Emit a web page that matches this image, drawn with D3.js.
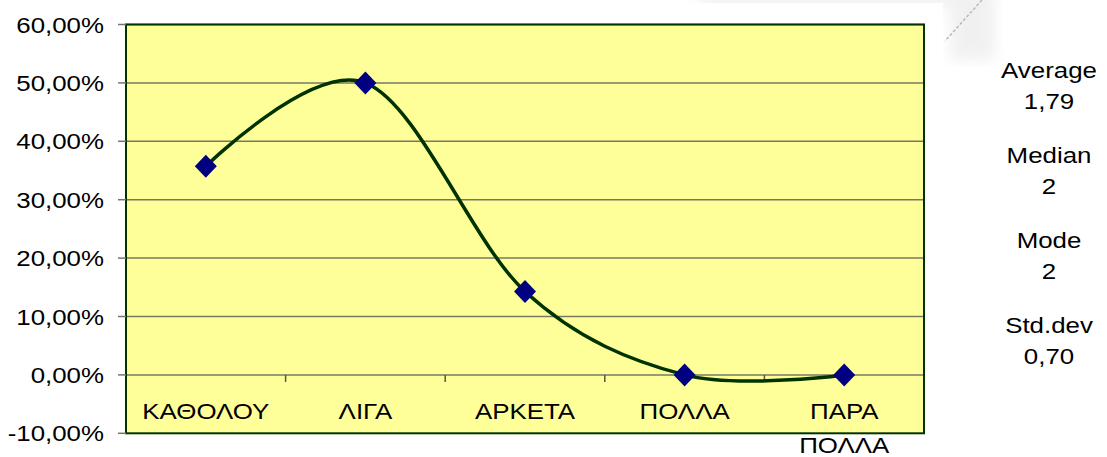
<!DOCTYPE html>
<html>
<head>
<meta charset="utf-8">
<script src="https://cdn.jsdelivr.net/npm/d3@7"></script>
<style>
  html, body { margin: 0; padding: 0; background: #fff; }
  svg { display: block; font-family: "Liberation Sans", Arial, sans-serif; }
</style>
</head>
<body>
<svg id="chart" width="1107" height="457"></svg>
<script>
// Response categories (second label line for the last one)
const categories = ["ΚΑΘΟΛΟΥ", "ΛΙΓΑ", "ΑΡΚΕΤΑ", "ΠΟΛΛΑ", "ΠΑΡΑ ΠΟΛΛΑ"];
const categoryLines = [["ΚΑΘΟΛΟΥ"], ["ΛΙΓΑ"], ["ΑΡΚΕΤΑ"], ["ΠΟΛΛΑ"], ["ΠΑΡΑ", "ΠΟΛΛΑ"]];
// Share of answers per category
const shares = [0.3571, 0.5, 0.1429, 0, 0];
// Value axis ticks
const yTicks = [-0.1, 0, 0.1, 0.2, 0.3, 0.4, 0.5, 0.6];
// Summary statistics shown on the right
const statLabels = ["Average", "Median", "Mode", "Std.dev"];
const statValues = ["1,79", "2", "2", "0,70"];

const svg = d3.select("#chart");
const plot = { left: 126, right: 924, top: 24.5, bottom: 433.3 };
const textStretch = 1.15;
const fontSize = 22.5;

const locale = d3.formatLocale({ decimal: ",", thousands: ".", grouping: [3], currency: ["", "€"], minus: "-" });
const pct = locale.format(".2%");

const x = d3.scaleBand().domain(categories).range([plot.left, plot.right]).padding(0);
const y = d3.scaleLinear().domain([-0.1, 0.6]).range([plot.bottom, plot.top]);

// Soft shadow of the frame behind the chart, top-right
const defs = svg.append("defs");
defs.append("filter").attr("id", "soft")
  .append("feGaussianBlur").attr("stdDeviation", 7);
svg.append("path")
  .attr("d", "M700,-10 L995,-10 L995,60 L950,60 L950,6 L700,6 Z")
  .attr("fill", "#d0d0d0").attr("opacity", 0.3).attr("filter", "url(#soft)");
svg.append("rect").attr("x", 0).attr("y", 3).attr("width", 943).attr("height", 460).attr("fill", "#fff");
svg.append("line")
  .attr("x1", 982).attr("y1", 0).attr("x2", 945).attr("y2", 41)
  .attr("stroke", "#b8b8b8").attr("stroke-width", 1.5).attr("stroke-dasharray", "3,2");

// Plot area background
svg.append("rect")
  .attr("x", plot.left).attr("y", plot.top)
  .attr("width", plot.right - plot.left).attr("height", plot.bottom - plot.top)
  .attr("fill", "#FFFF99");

// Horizontal gridlines
svg.append("g").selectAll("line")
  .data(yTicks.filter(d => d > -0.1))
  .join("line")
  .attr("x1", plot.left).attr("x2", plot.right)
  .attr("y1", d => y(d)).attr("y2", d => y(d))
  .attr("stroke", "#777766").attr("stroke-width", 1.5);

// Category tick marks on the zero line
const bounds = categories.map(c => x(c) + x.bandwidth()).slice(0, -1).concat([plot.right]);
svg.append("g").selectAll("line")
  .data(bounds)
  .join("line")
  .attr("x1", d => d).attr("x2", d => d)
  .attr("y1", y(0)).attr("y2", y(0) + 7)
  .attr("stroke", "#555544").attr("stroke-width", 1.5);

// Plot border
svg.append("rect")
  .attr("x", plot.left).attr("y", plot.top)
  .attr("width", plot.right - plot.left).attr("height", plot.bottom - plot.top)
  .attr("fill", "none").attr("stroke", "#003300").attr("stroke-width", 2);

// Value axis ticks and labels
const yAxis = svg.append("g");
yAxis.selectAll("line")
  .data(yTicks)
  .join("line")
  .attr("x1", plot.left - 8).attr("x2", plot.left)
  .attr("y1", d => y(d)).attr("y2", d => y(d))
  .attr("stroke", "#777766").attr("stroke-width", 1.5);
yAxis.selectAll("text")
  .data(yTicks)
  .join("text")
  .attr("transform", d => `translate(104,${y(d) + 8}) scale(${textStretch},1)`)
  .attr("text-anchor", "end")
  .attr("font-size", fontSize)
  .attr("fill", "#000")
  .text(d => pct(d));

// Category labels
const catG = svg.append("g");
categories.forEach((c, i) => {
  categoryLines[i].forEach((line, j) => {
    catG.append("text")
      .attr("transform", `translate(${x(c) + x.bandwidth() / 2},${418.5 + j * 34}) scale(${textStretch},1)`)
      .attr("text-anchor", "middle")
      .attr("font-size", fontSize)
      .attr("fill", "#000")
      .text(line);
  });
});

// Smoothed series line
const pts = categories.map((c, i) => [x(c) + x.bandwidth() / 2, y(shares[i])]);
svg.append("path")
  .attr("d", d3.line().curve(d3.curveCardinal.tension(0))(pts))
  .attr("fill", "none")
  .attr("stroke", "#003300")
  .attr("stroke-width", 3.5)
  .attr("stroke-linejoin", "round");

// Diamond markers
svg.append("g").selectAll("path")
  .data(pts)
  .join("path")
  .attr("transform", d => `translate(${d[0]},${d[1]})`)
  .attr("d", "M0,-11.5 L11,0 L0,11.5 L-11,0 Z")
  .attr("fill", "#000080");

// Summary statistics
const statG = svg.append("g");
statLabels.forEach((lab, i) => {
  const base = 78 + i * 85;
  statG.append("text")
    .attr("transform", `translate(1049,${base}) scale(${textStretch},1)`)
    .attr("text-anchor", "middle").attr("font-size", fontSize).attr("fill", "#000")
    .text(lab);
  statG.append("text")
    .attr("transform", `translate(1049,${base + 31}) scale(${textStretch},1)`)
    .attr("text-anchor", "middle").attr("font-size", fontSize).attr("fill", "#000")
    .text(statValues[i]);
});
</script>
</body>
</html>
